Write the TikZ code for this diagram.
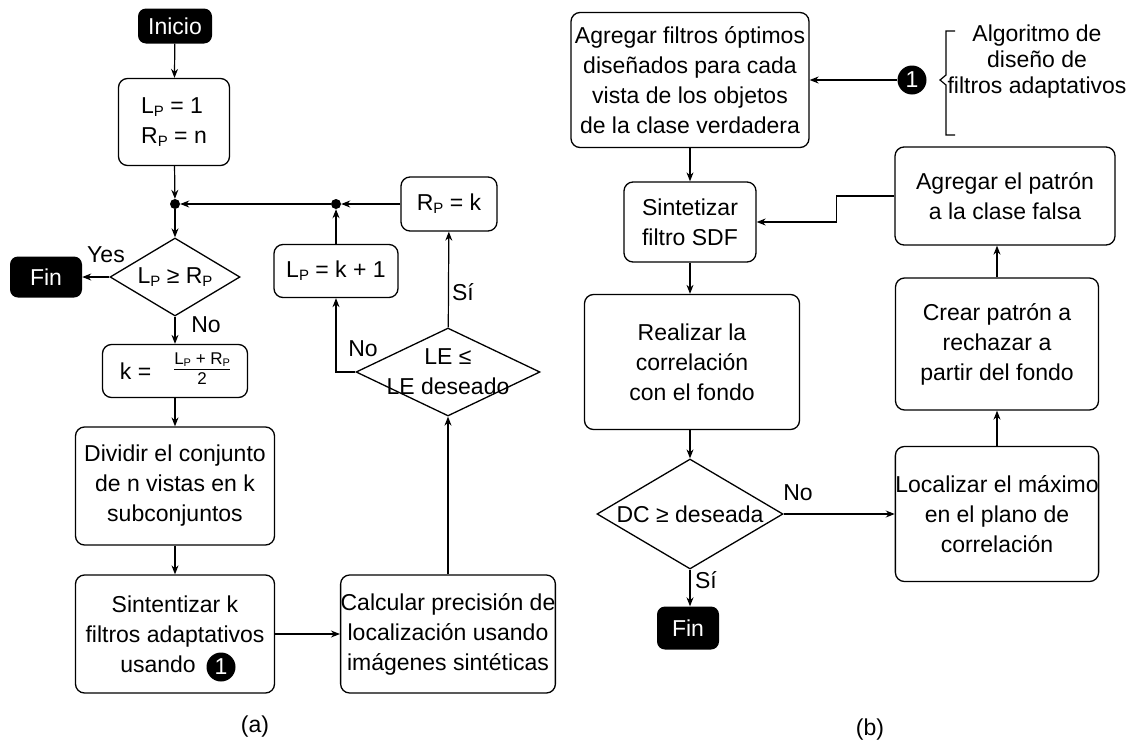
\documentclass[tikz,border=0pt]{standalone}
\usepackage{fontspec}
\setmainfont{Liberation Sans}
\usetikzlibrary{shapes.geometric,arrows.meta}
\newcommand\fs{\fontsize{23}{30}\selectfont}
\newcommand\Pp{\raisebox{-0.12em}{\fontsize{15}{15}\selectfont P}}
\newcommand\Pq{\raisebox{-0.1em}{\fontsize{11}{11}\selectfont P}}
\newcommand\frc[2]{\raisebox{4pt}{\fontsize{17}{17}\selectfont\begin{tabular}{@{}c@{}}#1\\[-1pt]\hline\rule{0pt}{15pt}#2\end{tabular}}}
\begin{document}
\begin{tikzpicture}[x=1pt,y=-1pt,
  box/.style={draw,line width=1.3pt,rounded corners=9pt,align=center,font=\fs,inner sep=0pt},
  term/.style={fill=black,text=white,rounded corners=8pt,font=\fs,inner sep=0pt},
  dia/.style={diamond,draw,line width=1.3pt,inner sep=0pt},
  arr/.style={line width=1.2pt,-{Stealth[length=9pt,width=7pt]}},
  ln/.style={line width=1.2pt},
  lbl/.style={font=\fs,inner sep=0pt,align=center},
  dotn/.style={circle,fill=black,inner sep=0pt,minimum size=10pt},
  one/.style={circle,fill=black,text=white,inner sep=0pt,minimum size=29pt,font=\fs}
]
\useasboundingbox (0,0) rectangle (1132,747);
% ---------------- (a)
\node[term,minimum width=74pt,minimum height=35pt] (ini) at (175,26) {Inicio};
\node[box,minimum width=111pt,minimum height=87pt,align=left] (init) at (174,122) {L\Pp{} = 1\\R\Pp{} = n};
\node[dotn] (dot1) at (175,204) {};
\node[dia,minimum width=130pt,minimum height=78pt,label={[lbl]center:{L\Pp{} ≥ R\Pp}}] (d1) at (175,277) {};
\node[term,minimum width=72pt,minimum height=41pt] (fin1) at (46,277) {Fin};
\node[box,minimum width=145pt,minimum height=53pt] (kb) at (175,371) {k =\quad\frc{L\Pq{} + R\Pq}{2}};
\node[box,minimum width=199pt,minimum height=118pt] (div) at (175,486) {Dividir el conjunto\\de n vistas en k\\subconjuntos};
\node[box,minimum width=199pt,minimum height=118pt] (sin) at (175,634) {Sintentizar k\\filtros adaptativos\\usando\hspace*{34pt}};
\node[one] (one1) at (221,667) {1};
\node[box,minimum width=211pt,minimum height=118pt] (calc) at (448,634) {Calcular precisión de\\localización usando\\imágenes sintéticas};
\node[dia,minimum width=184pt,minimum height=88pt,label={[lbl]center:{LE ≤\\LE deseado}}] (d2) at (448,372) {};
\node[box,minimum width=124pt,minimum height=53pt] (lk) at (336,271) {L\Pp{} = k + 1};
\node[box,minimum width=96pt,minimum height=54pt] (rk) at (449,204) {R\Pp{} = k};
\node[dotn] (dot2) at (336,204) {};

\draw[arr] (ini) -- (init);
\draw[arr] (init) -- (dot1);
\draw[arr] (dot1) -- (d1);
\draw[arr] (d1.west) -- (fin1.east);
\draw[arr] (d1) -- (kb);
\draw[arr] (kb) -- (div);
\draw[arr] (div) -- (sin);
\draw[arr] (sin) -- (calc);
\draw[arr] (calc) -- (d2);
\draw[arr] (d2) -- (rk);
\draw[arr] (d2.west) -| (lk.south);
\draw[arr] (lk) -- (dot2);
\draw[arr] (rk) -- (dot2);
\draw[arr] (dot2) -- (dot1);

\node[lbl] (yes) at (106,255) {Yes};
\node[lbl] (no1) at (206,325) {No};
\node[lbl] (no2) at (363,349) {No};
\node[lbl] (si1) at (463,292) {Sí};
\node[lbl] (capa) at (255,727) {(a)};
% ---------------- (b)
\node[box,minimum width=238pt,minimum height=135pt] (agf) at (690,80) {Agregar filtros óptimos\\diseñados para cada\\vista de los objetos\\de la clase verdadera};
\node[one] (one2) at (912,80) {1};
\draw[ln] (955,31) -- (946,31) -- (946,75) -- (940,80) -- (946,85) -- (946,135) -- (955,135);
\node[lbl,font=\fontsize{23}{26}\selectfont] (alg) at (1037,62) {Algoritmo de\\diseño de\\filtros adaptativos};
\node[box,minimum width=132pt,minimum height=80pt] (sdf) at (690,222) {Sintetizar\\filtro SDF};
\node[box,minimum width=215pt,minimum height=135pt] (real) at (692,362) {Realizar la\\correlación\\con el fondo};
\node[dia,minimum width=186pt,minimum height=110pt,label={[lbl]center:{DC ≥ deseada}}] (d3) at (690,514) {};
\node[term,minimum width=62pt,minimum height=43pt] (fin2) at (688,628) {Fin};
\node[box,minimum width=203pt,minimum height=135pt] (loc) at (997,514) {Localizar el máximo\\en el plano de\\correlación};
\node[box,minimum width=203pt,minimum height=132pt] (crear) at (997,344) {Crear patrón a\\rechazar a\\partir del fondo};
\node[box,minimum width=220pt,minimum height=98pt] (pat) at (1005,196) {Agregar el patrón\\a la clase falsa};

\draw[arr] (one2) -- (agf);
\draw[arr] (agf) -- (sdf);
\draw[arr] (sdf) -- (sdf |- real.north);
\draw[arr] (real.south -| d3.north) -- (d3.north);
\draw[arr] (d3.south) -- (d3.south |- fin2.north);
\draw[arr] (d3.east) -- (loc.west);
\draw[arr] (loc.north -| crear.north) -- (crear.south);
\draw[arr] (crear.north) -- (crear.north |- pat.south);
\draw[arr] (pat.west) -- ++(-58,0) |- (sdf.east);

\node[lbl] (no3) at (798,493) {No};
\node[lbl] (si2) at (706,580) {Sí};
\node[lbl] (capb) at (870,730) {(b)};
\end{tikzpicture}
\end{document}
